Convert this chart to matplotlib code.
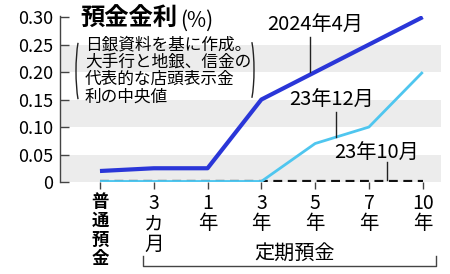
import matplotlib
matplotlib.use("Agg")
import matplotlib.pyplot as plt
from matplotlib.patches import Arc

plt.rcParams['font.family'] = ['Noto Sans CJK JP', 'DejaVu Sans']

cats = ['普通預金', '3カ月', '1年', '3年', '5年', '7年', '10年']
apr24 = [0.02, 0.025, 0.025, 0.15, 0.20, 0.25, 0.30]
dec23 = [0.001, 0.001, 0.001, 0.001, 0.07, 0.10, 0.20]
oct23 = [0.001, 0.001, 0.001, 0.001, 0.001, 0.001, 0.001]
yticks = [0, 0.05, 0.10, 0.15, 0.20, 0.25, 0.30]
ylabels = ['0', '0.05', '0.10', '0.15', '0.20', '0.25', '0.30']

dark = '#2a36d8'
light = '#4fc6ef'

fig = plt.figure(figsize=(4.5, 2.74), dpi=100)
ax = fig.add_axes([60/450, 1-182/274, (441-60)/450, (182-16)/274])
x = list(range(len(cats)))

for lo, hi in [(0, 0.05), (0.10, 0.15), (0.20, 0.25)]:
    ax.axhspan(lo, hi, color='#ececec', lw=0, zorder=0)

ax.plot(x, oct23, color='#111111', lw=1.6, ls=(0, (4, 2.5)), zorder=2)
ax.plot(x, dec23, color=light, lw=2, zorder=3, solid_capstyle='butt')
ax.plot(x, apr24, color=dark, lw=3, zorder=4, solid_capstyle='butt')

ax.set_xlim(-0.743, 6.34)
ax.set_ylim(0, 0.302)
for s in ['top', 'right', 'bottom']:
    ax.spines[s].set_visible(False)
ax.spines['left'].set_color('#444444')
ax.spines['left'].set_linewidth(1)

ax.set_yticks(yticks)
ax.set_yticklabels(ylabels, fontsize=13)
ax.tick_params(axis='y', direction='in', length=6.5, width=1, color='#444444', pad=5)
ax.set_xticks(x)
ax.set_xticklabels(['\n'.join(c) if c != '10年' else '10\n年' for c in cats],
                   fontsize=14, linespacing=0.95, va='top')
first = ax.get_xticklabels()[0]
first.set_fontweight('bold')
first.set_fontsize(12.5)
first.set_linespacing(1.08)
ax.tick_params(axis='x', direction='out', length=5, width=1, color='#444444', pad=3)

# overlay in pixel coordinates for annotations
ov = fig.add_axes([0, 0, 1, 1], facecolor='none')
ov.set_xlim(0, 450)
ov.set_ylim(274, 0)
ov.axis('off')

ov.text(80, 19, '預金金利', fontsize=17.5, fontweight='bold', va='center', ha='left')
ov.text(180, 21, '(%)', fontsize=15, va='center', ha='left')
ov.text(85, 71, '日銀資料を基に作成。\n大手行と地銀、信金の\n代表的な店頭表示金\n利の中央値',
        fontsize=12, va='center', ha='left', linespacing=1.05)
ov.add_patch(Arc((83, 71), 14, 80, theta1=100, theta2=260, lw=1, color='#222222'))
ov.add_patch(Arc((247, 70), 14, 78, theta1=-80, theta2=80, lw=1, color='#222222'))

ov.text(315, 25, '2024年4月', fontsize=14.5, ha='center', va='center')
ov.plot([310, 310], [37, 72], color='#222222', lw=1)
ov.text(332, 100, '23年12月', fontsize=14.5, ha='center', va='center')
ov.plot([336, 336], [112, 137], color='#222222', lw=1)
ov.text(377, 153, '23年10月', fontsize=14.5, ha='center', va='center')
ov.plot([387, 387], [162, 180], color='#222222', lw=1)

ov.plot([143, 143, 436, 436], [256, 266, 266, 256], color='#444444', lw=1)
ov.text(295, 253, '定期預金', fontsize=14.5, ha='center', va='center')

fig.savefig('out.png', dpi=100)
